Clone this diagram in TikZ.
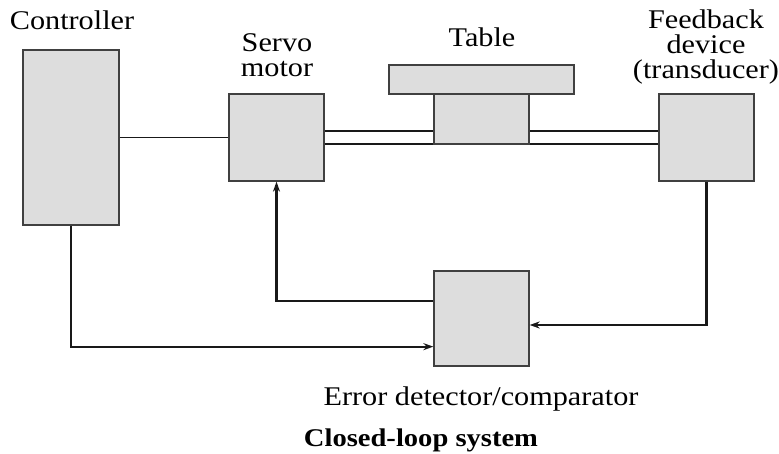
\documentclass[tikz,border=0pt]{standalone}
\usepackage{fontspec}
\setmainfont{Liberation Serif}[FakeStretch=1.12]
\usetikzlibrary{arrows.meta,calc}
\definecolor{boxfill}{HTML}{DDDDDD}
\definecolor{boxline}{HTML}{404040}
\tikzset{
  blk/.style={draw=boxline, fill=boxfill, line width=1.3pt, inner sep=0pt},
  conn/.style={draw=black!90, line width=2.3pt},
  thin/.style={draw=black!90, line width=1.1pt},
  arr/.style={conn, -{Stealth[length=10pt,width=7pt]}},
  lbl/.style={font=\fontsize{27}{29}\selectfont, inner sep=0pt, align=center},
}
\begin{document}
\begin{tikzpicture}[x=1pt,y=-1pt]
\useasboundingbox (0,0) rectangle (779,454);
% shaft (behind block)
\node[blk, minimum width=95, minimum height=87] (servo) at (276.5,137.5) {};
\node[blk, minimum width=95, minimum height=87] (fb) at (706.5,137.5) {};
\draw[thin] ($(servo.east)+(0,-6.5)$) -- ($(fb.west)+(0,-6.5)$);
\draw[thin] ($(servo.east)+(0,6.5)$) -- ($(fb.west)+(0,6.5)$);
\node[blk, minimum width=96, minimum height=175] (ctrl) at (71,137.5) {};
\node[blk, minimum width=95, minimum height=50] (block) at (481.5,119) {};
\node[blk, minimum width=185, minimum height=29] (plate) at (481.5,79.5) {};
\node[blk, minimum width=95, minimum height=95] (err) at (481.5,318.5) {};
% connectors
\draw[thin] (ctrl.east) -- (servo.west);
\draw[arr] (ctrl.south) |- ($(err.south west)+(0,-20)$);
\draw[arr] ($(err.west)+(0,-17.5)$) -| (servo.south);
\draw[arr] (fb.south) |- ($(err.east)+(0,6.5)$);
% labels
\node[lbl, anchor=base] (tctrl) at (72,30) {Controller};
\node[lbl, anchor=base] (tservo1) at (277,52) {Servo};
\node[lbl, anchor=base] (tservo2) at (277,77) {motor};
\node[lbl, anchor=base] (ttable) at (482,47) {Table};
\node[lbl, anchor=base] (tfb1) at (706,29) {Feedback};
\node[lbl, anchor=base] (tfb2) at (706,54) {device};
\node[lbl, anchor=base] (tfb3) at (706,79) {(transducer)};
\node[lbl, anchor=base] (terr) at (481,405) {Error detector/comparator};
\node[lbl, anchor=base, font=\fontsize{25.5}{28}\selectfont\bfseries] (tcap) at (421,446) {Closed-loop system};
\end{tikzpicture}
\end{document}
